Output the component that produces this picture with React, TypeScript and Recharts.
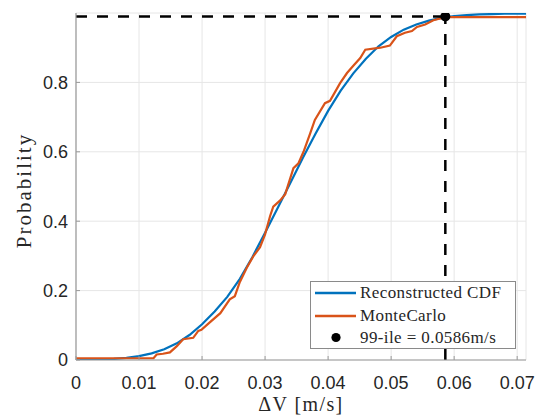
import React from "react";
import {
  ComposedChart,
  Line,
  Scatter,
  XAxis,
  YAxis,
  CartesianGrid,
  ReferenceLine,
} from "recharts";

// Reconstructed CDF (blue)
const cdfX = [0, 0.002, 0.004, 0.006, 0.008, 0.01, 0.012, 0.014, 0.016, 0.018, 0.02, 0.022, 0.024, 0.026, 0.028, 0.03, 0.032, 0.034, 0.036, 0.038, 0.04, 0.042, 0.044, 0.046, 0.048, 0.05, 0.052, 0.054, 0.056, 0.058, 0.06, 0.062, 0.064, 0.066, 0.068, 0.07, 0.0714];
const cdfP = [0.0, 0.001, 0.001, 0.003, 0.006, 0.011, 0.019, 0.031, 0.048, 0.072, 0.103, 0.14, 0.182, 0.234, 0.297, 0.367, 0.438, 0.51, 0.583, 0.652, 0.718, 0.776, 0.826, 0.868, 0.904, 0.931, 0.952, 0.967, 0.978, 0.986, 0.991, 0.994, 0.996, 0.997, 0.998, 0.998, 0.998];

// Monte Carlo empirical CDF (orange)
const mcX = [0, 0.0123, 0.0128, 0.0138, 0.0149, 0.016, 0.017, 0.0186, 0.0194, 0.0199, 0.021, 0.0229, 0.0244, 0.0252, 0.026, 0.0271, 0.0281, 0.0292, 0.03, 0.0308, 0.0313, 0.0324, 0.0332, 0.0345, 0.0353, 0.0361, 0.0371, 0.0379, 0.0395, 0.0403, 0.0419, 0.043, 0.044, 0.0451, 0.0459, 0.0483, 0.0498, 0.0509, 0.0522, 0.0533, 0.0541, 0.0554, 0.0567, 0.0586, 0.0714];
const mcP = [0.005, 0.005, 0.016, 0.018, 0.022, 0.04, 0.06, 0.064, 0.084, 0.087, 0.105, 0.135, 0.175, 0.184, 0.225, 0.266, 0.298, 0.325, 0.362, 0.415, 0.442, 0.46, 0.478, 0.553, 0.567, 0.6, 0.65, 0.692, 0.74, 0.747, 0.798, 0.827, 0.848, 0.87, 0.894, 0.9, 0.906, 0.933, 0.943, 0.948, 0.96, 0.967, 0.979, 0.988, 0.988];

// 99th percentile
const pctX = 0.0586;
const pctP = 0.99;

const xTicks = [0, 0.01, 0.02, 0.03, 0.04, 0.05, 0.06, 0.07];
const yTicks = [0, 0.2, 0.4, 0.6, 0.8];
const xDomain = [0, 0.0714];
const yDomain = [0, 1];

const legendNames = ["Reconstructed CDF", "MonteCarlo", "99-ile = 0.0586m/s"];

const BLUE = "#0072BD";
const ORANGE = "#D95319";

const cdfData = cdfX.map((x, i) => ({ x, p: cdfP[i] }));
const mcData = mcX.map((x, i) => ({ x, p: mcP[i] }));
const pctData = [{ x: pctX, p: pctP }];

const tickStyle = { fill: "#262626", fontSize: 18, fontFamily: "Liberation Sans, Arial, sans-serif" };
const serif = "Liberation Serif, Times New Roman, serif";
const axisStroke = "#9a9a9a";

export default function App() {
  return (
    <div style={{ position: "absolute", left: 0, top: 0, width: 542, height: 416, background: "#fff" }}>
      <ComposedChart width={542} height={416} margin={{ top: 13, right: 16, bottom: 0, left: 0 }}>
        <CartesianGrid stroke="#e6e6e6" strokeWidth={1} />
        <XAxis
          type="number"
          dataKey="x"
          domain={xDomain}
          ticks={xTicks}
          allowDataOverflow
          tickSize={-4}
          tickLine={{ stroke: axisStroke, strokeWidth: 1 }}
          axisLine={{ stroke: axisStroke, strokeWidth: 1.2 }}
          tick={tickStyle}
          tickMargin={20}
          height={56}
          tickFormatter={(v: number) => (v === 0 ? "0" : String(v))}
          label={{
            content: (props: any) => {
              const vb = props.viewBox || {};
              return (
                <text
                  x={vb.x + vb.width / 2}
                  y={410.5}
                  textAnchor="middle"
                  fontFamily={serif}
                  fontSize={20}
                  letterSpacing={1.4}
                  fill="#262626"
                >
                  ΔV [m/s]
                </text>
              );
            },
          }}
        />
        <YAxis
          type="number"
          domain={yDomain}
          ticks={yTicks}
          allowDataOverflow
          width={76}
          tickSize={-4}
          tickMargin={12}
          tickLine={{ stroke: axisStroke, strokeWidth: 1 }}
          axisLine={{ stroke: axisStroke, strokeWidth: 1.2 }}
          tick={tickStyle}
          tickFormatter={(v: number) => (v === 0 ? "0" : String(v))}
          label={{
            content: (props: any) => {
              const vb = props.viewBox || {};
              const cy = vb.y + vb.height / 2 + 4;
              return (
                <text
                  x={24}
                  y={cy}
                  transform={`rotate(-90, 24, ${cy})`}
                  textAnchor="middle"
                  dominantBaseline="central"
                  fontFamily={serif}
                  fontSize={21}
                  letterSpacing={2}
                  fill="#262626"
                >
                  Probability
                </text>
              );
            },
          }}
        />
        <Line
          data={cdfData}
          dataKey="p"
          type="linear"
          stroke={BLUE}
          strokeWidth={2.2}
          dot={false}
          isAnimationActive={false}
        />
        <Line
          data={mcData}
          dataKey="p"
          type="linear"
          stroke={ORANGE}
          strokeWidth={2.2}
          dot={false}
          isAnimationActive={false}
        />
        <ReferenceLine
          segment={[{ x: 0, y: pctP }, { x: pctX, y: pctP }]}
          stroke="#000"
          strokeWidth={2.5}
          strokeDasharray="11 10"
        />
        <ReferenceLine
          segment={[{ x: pctX, y: 0 }, { x: pctX, y: pctP }]}
          stroke="#000"
          strokeWidth={2.5}
          strokeDasharray="11 10"
        />
        <Scatter
          data={pctData}
          dataKey="p"
          fill="#000"
          isAnimationActive={false}
          shape={(props: any) => <circle cx={props.cx} cy={props.cy} r={5} fill="#000" />}
        />
      </ComposedChart>
      <div
        style={{
          position: "absolute",
          left: 310,
          top: 281,
          width: 206,
          height: 68,
          boxSizing: "border-box",
          border: "1px solid #8a8a8a",
          background: "#fff",
        }}
      >
        <svg width={204} height={66} style={{ display: "block" }}>
          <line x1={4} x2={45} y1={11} y2={11} stroke={BLUE} strokeWidth={2.5} />
          <line x1={4} x2={45} y1={34} y2={34} stroke={ORANGE} strokeWidth={2.5} />
          <circle cx={25} cy={55.5} r={4.6} fill="#000" />
          {legendNames.map((n, i) => (
            <text
              key={n}
              x={49}
              y={[16, 38.7, 61][i]}
              fontFamily={serif}
              fontSize={17}
              letterSpacing={0.4}
              fill="#262626"
            >
              {n}
            </text>
          ))}
        </svg>
      </div>
    </div>
  );
}
